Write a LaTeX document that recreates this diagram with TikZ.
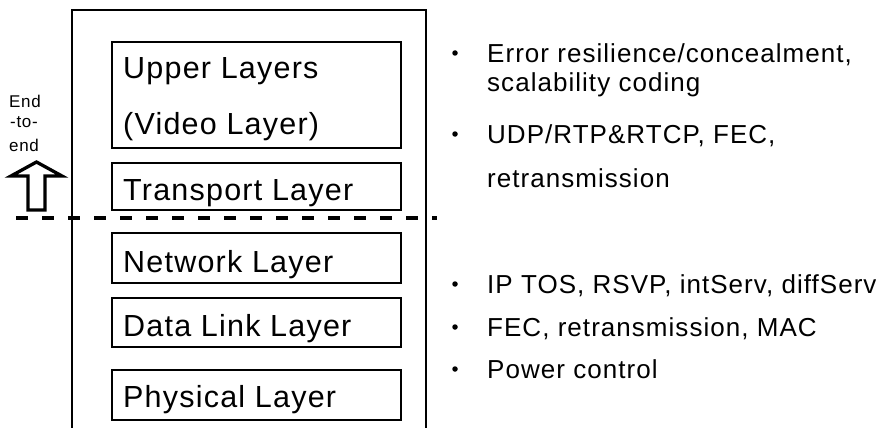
\documentclass[tikz,border=0pt]{standalone}
\usepackage{fontspec}
\setmainfont{Liberation Sans}[LetterSpace=4]
\begin{document}
\begin{tikzpicture}[x=1pt,y=-1pt,
  layerbox/.style={draw=black,line width=1.6pt},
  layertext/.style={anchor=base west,inner sep=0pt,font=\fontsize{30.5}{36}\selectfont},
  notetext/.style={anchor=base west,inner sep=0pt,font=\fontsize{26}{30}\selectfont},
  bulletmark/.style={circle,fill=black,inner sep=0pt,minimum size=5.5pt},
  e2etext/.style={anchor=base west,inner sep=0pt,font=\fontsize{17}{20}\selectfont}]
\useasboundingbox (0,0) rectangle (876,428);
\begin{scope}
\clip (0,0) rectangle (876,428);
% outer protocol stack frame, open at the bottom
\draw[line width=1.6pt] (72,440) -- (72,10) -- (426,10) -- (426,440);
\end{scope}

% layer boxes
\draw[layerbox] (112,42) rectangle (401,148);
\draw[layerbox] (112,163) rectangle (401,210);
\draw[layerbox] (112,233) rectangle (401,283);
\draw[layerbox] (112,298) rectangle (401,347);
\draw[layerbox] (112,370) rectangle (401,420);

% layer names
\node[layertext] (upper) at (123,79) {Upper Layers};
\node[layertext] (video) at (123,135) {(Video Layer)};
\node[layertext] (transport) at (123,200) {Transport Layer};
\node[layertext] (network) at (123,272) {Network Layer};
\node[layertext] (datalink) at (123,336) {Data Link Layer};
\node[layertext] (physical) at (123,407) {Physical Layer};

% boundary between end-to-end and network layers
\coordinate (cutL) at (16,218);
\coordinate (cutR) at (437,218);
\draw[line width=3.4pt,dash pattern=on 12pt off 14pt] (cutL) -- (cutR);

% end-to-end label and hollow arrow
\node[e2etext] (e1) at (9,107) {End};
\node[e2etext] (e2) at (10,128) {-to-};
\node[e2etext] (e3) at (9,151) {end};
\draw[line width=3.3pt,fill=white,miter limit=10]
  (36.5,162) -- (62,176) -- (45,176) -- (45,210) -- (28,210) -- (28,176) -- (11,176) -- cycle;

% notes for each group of layers
\node[bulletmark] (b1) at (455,53) {};
\node[notetext] (n1) at (487,63) {Error resilience/concealment,};
\node[notetext] (n1b) at (487,92) {scalability coding};
\node[bulletmark] (b2) at (455,134) {};
\node[notetext] (n2) at (487,143) {UDP/RTP\&RTCP, FEC,};
\node[notetext] (n2b) at (487,187) {retransmission};
\node[bulletmark] (b3) at (455,284) {};
\node[notetext] (n3) at (487,293) {IP TOS, RSVP, intServ, diffServ};
\node[bulletmark] (b4) at (455,327) {};
\node[notetext] (n4) at (487,336) {FEC, retransmission, MAC};
\node[bulletmark] (b5) at (455,369) {};
\node[notetext] (n5) at (487,378) {Power control};
\end{tikzpicture}
\end{document}
